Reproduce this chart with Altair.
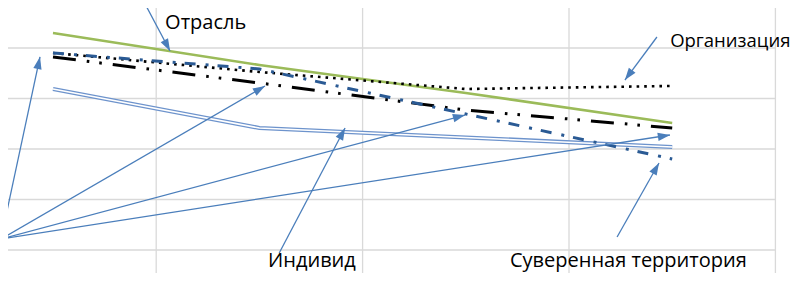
import math
import altair as alt
import pandas as pd

# ---------------- data (category index 0..3, value units) ----------------
categories = [0, 1, 2, 3]
otrasl = [52.97, 46.63, 41.09, 35.15]          # green solid  -> "Отрасль"
organizatsiya = [49.01, 45.25, 41.88, 42.48]   # black dotted -> "Организация"
unlabeled = [48.22, 43.07, 37.72, 34.16]       # black long dash-dot-dot
suverennaya = [49.01, 45.84, 36.93, 28.02]     # dark blue dash-dot -> "Суверенная территория"
individ = [41.88, 34.16, 32.28, 30.40]         # double line -> "Индивид"

x_grid = [0.5, 1.5, 2.5, 3.5]
y_grid = [10, 20, 30, 40, 50]

label_text = ["Отрасль", "Организация", "Индивид", "Суверенная территория"]
label_x = [0.543, 2.990, 1.042, 2.214]
label_y = [53.76, 50.20, 6.634, 6.634]
label_size = [20, 18.5, 20, 20]

arrow_x1 = [-0.252, -0.252, -0.252, -0.252, 1.096, 0.436, 2.926, 2.733]
arrow_y1 = [12.18, 12.18, 12.18, 12.18, 9.41, 59.5, 52.18, 12.57]
arrow_x2 = [-0.063, 1.027, 1.996, 2.989, 1.415, 0.567, 2.771, 2.936]
arrow_y2 = [48.22, 42.48, 36.73, 32.77, 34.16, 49.41, 43.66, 27.23]

# ---------------- layout ----------------
W, H = 782, 265
XMIN, XMAX = -0.218, 3.5707
YMIN, YMAX = 5.446, 57.92
SX = W / (XMAX - XMIN)
SY = H / (YMAX - YMIN)

xs = alt.Scale(domain=[XMIN, XMAX], nice=False, zero=False)
ys = alt.Scale(domain=[YMIN, YMAX], nice=False, zero=False)


def X(f="x"):
    return alt.X(f"{f}:Q", scale=xs, axis=None)


def Y(f="y"):
    return alt.Y(f"{f}:Q", scale=ys, axis=None)


GRID = "#d9d9d9"
ARROW = "#4a7ebb"

# grid
hgrid = pd.DataFrame({"y": y_grid, "x": [XMIN - 0.2] * len(y_grid), "x2": [3.5] * len(y_grid)})
vgrid = pd.DataFrame({"x": x_grid})
h_layer = alt.Chart(hgrid).mark_rule(color=GRID, strokeWidth=1.3, clip=True).encode(
    x=X(), x2="x2:Q", y=Y())
v_layer = alt.Chart(vgrid).mark_rule(color=GRID, strokeWidth=1.3).encode(
    x=X(), y=alt.value(0), y2=alt.value(H))


def line_df(vals):
    return pd.DataFrame({"x": categories, "y": vals})


ind_outer = alt.Chart(line_df(individ)).mark_line(color="#6d93cc", strokeWidth=4.2).encode(x=X(), y=Y())
ind_inner = alt.Chart(line_df(individ)).mark_line(color="white", strokeWidth=1.6).encode(x=X(), y=Y())
green = alt.Chart(line_df(otrasl)).mark_line(color="#9bbb59", strokeWidth=2.6).encode(x=X(), y=Y())
dotted = alt.Chart(line_df(organizatsiya)).mark_line(
    color="black", strokeWidth=2.6, strokeDash=[2.6, 5]).encode(x=X(), y=Y())
dashdot2 = alt.Chart(line_df(unlabeled)).mark_line(
    color="black", strokeWidth=3, strokeDash=[23, 11, 2.6, 10, 2.6, 11]).encode(x=X(), y=Y())
bluedd = alt.Chart(line_df(suverennaya)).mark_line(
    color="#2a5a94", strokeWidth=3, strokeDash=[11, 10, 3, 9]).encode(x=X(), y=Y())

# arrows
arr = pd.DataFrame({"x": arrow_x1, "y": arrow_y1, "x2": arrow_x2, "y2": arrow_y2})
heads = []
for a, b, c, d in zip(arrow_x1, arrow_y1, arrow_x2, arrow_y2):
    dx = (c - a) * SX
    dy = -(d - b) * SY
    L = math.hypot(dx, dy)
    ux, uy = dx / L, dy / L
    back = 6.0
    hx = c - back * ux / SX
    hy = d + back * uy / SY
    ang = math.degrees(math.atan2(dx, -dy)) % 360
    heads.append({"x": hx, "y": hy, "ang": ang})
heads = pd.DataFrame(heads)

arrow_lines = alt.Chart(arr).mark_rule(color=ARROW, strokeWidth=1.3).encode(
    x=X(), y=Y(), x2="x2:Q", y2="y2:Q")
arrow_heads = alt.Chart(heads).mark_point(
    shape="M0,-1L-0.68,1L0.68,1Z", filled=True, color=ARROW, opacity=1, size=150, strokeWidth=0
).encode(x=X(), y=Y(), angle=alt.Angle("ang:Q", scale=None))

labels = alt.Chart(pd.DataFrame({"x": label_x, "y": label_y, "t": label_text, "s": label_size})).mark_text(
    align="left", baseline="alphabetic", font="Open Sans", color="black"
).encode(x=X(), y=Y(), text="t:N", size=alt.Size("s:Q", scale=None))

chart = alt.layer(
    h_layer, v_layer, ind_outer, ind_inner, green, dotted, dashdot2, bluedd,
    arrow_lines, arrow_heads, labels
).properties(width=W, height=H, padding=0, autosize="none", background="white"
).configure_view(stroke=None)

chart.save("out.html", embed_options={"renderer": "svg", "actions": False})
